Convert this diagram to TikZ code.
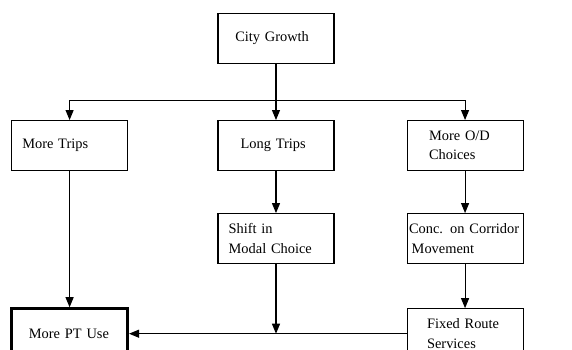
\documentclass[tikz,border=0pt]{standalone}
\usepackage{fontspec}
\setmainfont{Liberation Serif}
\usetikzlibrary{arrows.meta,positioning}

\begin{document}
\begin{tikzpicture}[
    node distance=1.2cm,
    box/.style={rectangle, draw=black, line width=0.8pt, minimum height=37.5pt, inner xsep=#1, text width=87pt-2*#1, align=left},
    box/.default=8pt,
    arrow/.style={line width=0.8pt,-{Triangle[length=7.5pt,width=6pt]}},
    every node/.style={font=\fontsize{10.8}{14.5}\selectfont}
]
\useasboundingbox (-207pt,28.875pt) rectangle (222pt,-233.625pt);

% Nodes
\node[box=13pt] (city) at (0,0) {City Growth};
\node[box=17pt, below=42pt of city] (long) {Long Trips};
\node[box, left=67pt of long] (trips) {More Trips};
\node[box=16.5pt, right=54pt of long] (odc) {More O/D\\ Choices};
\node[box, below=31.5pt of long] (shift) {Shift in\\ Modal Choice};
\node[box=1.5pt, below=31.5pt of odc] (conc) {\mbox{Conc. on Corridor}\\ \hspace{2pt}Movement};
\node[box=15pt, below=33pt of conc] (fixed) {Fixed Route\\ Services};
\node[box=13pt, line width=2.2pt] (ptuse) at (trips |- fixed) {More PT Use};
\coordinate[below=27pt of city] (bus);

% Arrows
\draw[line width=0.8pt] (city) -- (bus);
\draw[line width=0.8pt] (trips |- bus) -- (odc |- bus);
\draw[arrow] (trips |- bus) -- (trips);
\draw[arrow] (bus) -- (long);
\draw[arrow] (odc |- bus) -- (odc);
\draw[arrow] (trips) -- (ptuse);
\draw[arrow] (long) -- (shift);
\draw[arrow] (odc) -- (conc);
\draw[arrow] (conc) -- (fixed);
\draw[arrow] (fixed) -- (ptuse);
\draw[arrow] (shift) -- (shift |- ptuse);

\end{tikzpicture}
\end{document}
